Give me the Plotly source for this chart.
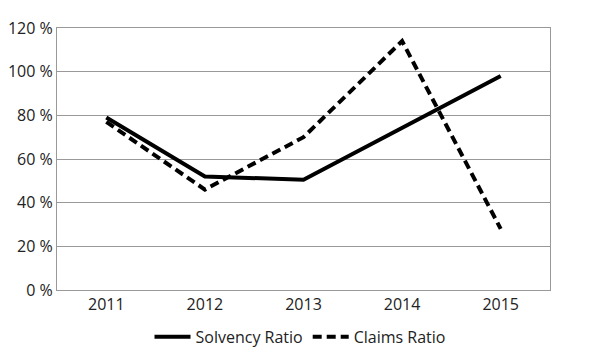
import plotly.graph_objects as go

years = ["2011", "2012", "2013", "2014", "2015"]
solvency = [79, 52, 50.5, 74, 98]
claims = [77, 46, 70, 114, 28]

fig = go.Figure()
fig.add_trace(go.Scatter(x=years, y=solvency, mode="lines", name="Solvency Ratio",
                         line=dict(color="black", width=4)))
fig.add_trace(go.Scatter(x=years, y=claims, mode="lines", name="Claims Ratio",
                         line=dict(color="black", width=4, dash="9px,5px")))

font = "Open Sans, Lato, sans-serif"
fig.update_layout(
    width=600, height=358,
    margin=dict(l=57, r=50, t=28, b=68),
    paper_bgcolor="white", plot_bgcolor="white",
    font=dict(family=font, size=16, color="#222"),
    showlegend=True,
    legend=dict(orientation="h", x=0.5, xanchor="center", xref="container",
                y=0.059, yanchor="middle", yref="container",
                font=dict(size=16), itemwidth=36, tracegroupgap=0),
    xaxis=dict(type="category", range=[-0.5, 4.5], showline=True, linecolor="#999",
               linewidth=1, mirror=True, showgrid=False, ticks="", tickfont=dict(size=16),
               automargin=False),
    yaxis=dict(range=[0, 120], dtick=20, ticksuffix=" %", showline=True, linecolor="#999",
               linewidth=1, mirror=True, showgrid=True, gridcolor="#999", gridwidth=1,
               zeroline=False, ticks="", tickfont=dict(size=16), automargin=False),
)
fig.write_html("out.html", config={"displayModeBar": False, "responsive": False},
               post_script="document.body.style.margin='0';document.body.style.overflow='hidden';")
